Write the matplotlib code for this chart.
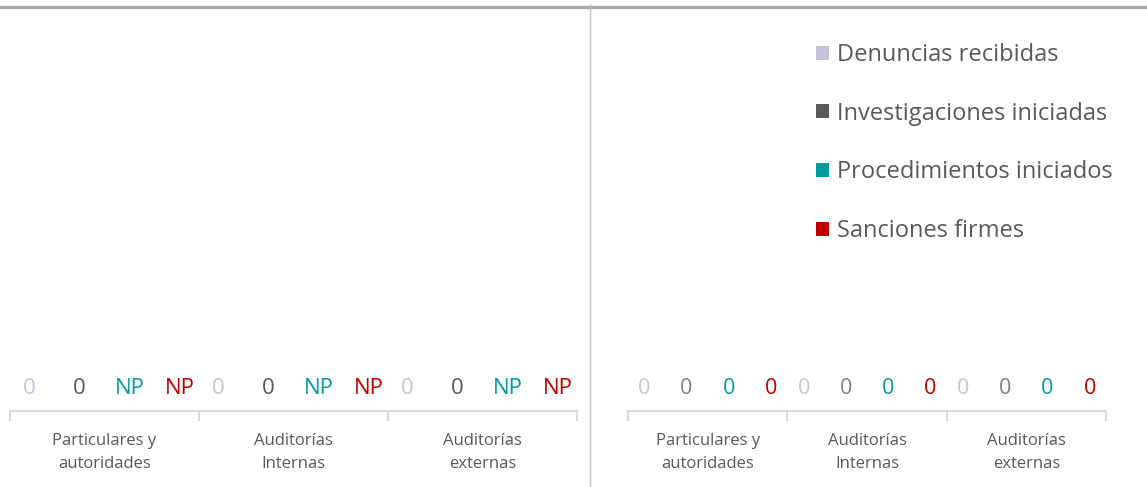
import matplotlib
matplotlib.use("Agg")
import matplotlib.pyplot as plt
from matplotlib.lines import Line2D
from matplotlib.patches import Patch

plt.rcParams['font.family'] = ['Open Sans', 'DejaVu Sans']

categories = ["Particulares y\nautoridades", "Auditorías\nInternas", "Auditorías\nexternas"]
series_names = ["Denuncias recibidas", "Investigaciones iniciadas",
                "Procedimientos iniciados", "Sanciones firmes"]
legend_colors = ["#c5c3d9", "#595959", "#009c9c", "#c00000"]

# Left panel (None = "NP")
left_denuncias = [0, 0, 0]
left_investigaciones = [0, 0, 0]
left_procedimientos = [None, None, None]
left_sanciones = [None, None, None]
left_label_colors = ["#c5c3d9", "#595959", "#009c9c", "#c00000"]

# Right panel
right_denuncias = [0, 0, 0]
right_investigaciones = [0, 0, 0]
right_procedimientos = [0, 0, 0]
right_sanciones = [0, 0, 0]
right_label_colors = ["#c8c8c8", "#7f7f7f", "#009c9c", "#c00000"]

W, H = 1147, 487
fig = plt.figure(figsize=(W / 100, H / 100), dpi=100)


def panel(rect, series, label_colors, fsize):
    ax = fig.add_axes(rect)
    n = len(categories)
    for i, vals in enumerate(series):
        xs = [g + 0.5 + (i - 1.5) * 0.265 for g in range(n)]
        hs = [v if v is not None else 0 for v in vals]
        ax.bar(xs, hs, width=0.2, color=legend_colors[i])
        for x, v in zip(xs, vals):
            ax.annotate("NP" if v is None else str(v), (x, 0),
                        xytext=(0, 12), textcoords="offset points",
                        ha="center", va="baseline", fontsize=fsize,
                        color=label_colors[i])
    ax.set_xlim(0, n)
    ax.set_ylim(0, 10)
    for s in ["top", "left", "right"]:
        ax.spines[s].set_visible(False)
    ax.spines["bottom"].set_color("#d9d9d9")
    ax.spines["bottom"].set_linewidth(1.5)
    ax.set_yticks([])
    ax.set_xticks(range(n + 1))
    ax.set_xticklabels([])
    ax.tick_params(axis="x", which="major", length=7, width=1.5, color="#d9d9d9")
    ax.set_xticks([g + 0.5 for g in range(n)], minor=True)
    ax.set_xticklabels(categories, minor=True, fontsize=12, color="#595959",
                       linespacing=1.62)
    ax.tick_params(axis="x", which="minor", length=0, pad=15.5)
    return ax


y0 = (H - 411) / H
h = 300 / H
ax1 = panel([10 / W, y0, 567 / W, h],
            [left_denuncias, left_investigaciones, left_procedimientos, left_sanciones],
            left_label_colors, 16)
ax2 = panel([628 / W, y0, 478 / W, h],
            [right_denuncias, right_investigaciones, right_procedimientos, right_sanciones],
            right_label_colors, 15.5)

handles = [Patch(facecolor=c, edgecolor="none") for c in legend_colors]
fig.legend(handles, series_names, loc="upper left",
           bbox_to_anchor=(816 / W, 1 - 43 / H), frameon=False,
           fontsize=17, labelcolor="#595959", handlelength=0.55, handleheight=0.55,
           handletextpad=0.35, labelspacing=1.47, borderaxespad=0, borderpad=0)

fig.add_artist(Line2D([0, 1], [1 - 7 / H, 1 - 7 / H], transform=fig.transFigure,
                      color="#a6a6a6", linewidth=2.4))
fig.add_artist(Line2D([590 / W, 590 / W], [0, 1 - 4 / H], transform=fig.transFigure,
                      color="#bfbfbf", linewidth=1.0))

fig.savefig("out.png", dpi=100)
